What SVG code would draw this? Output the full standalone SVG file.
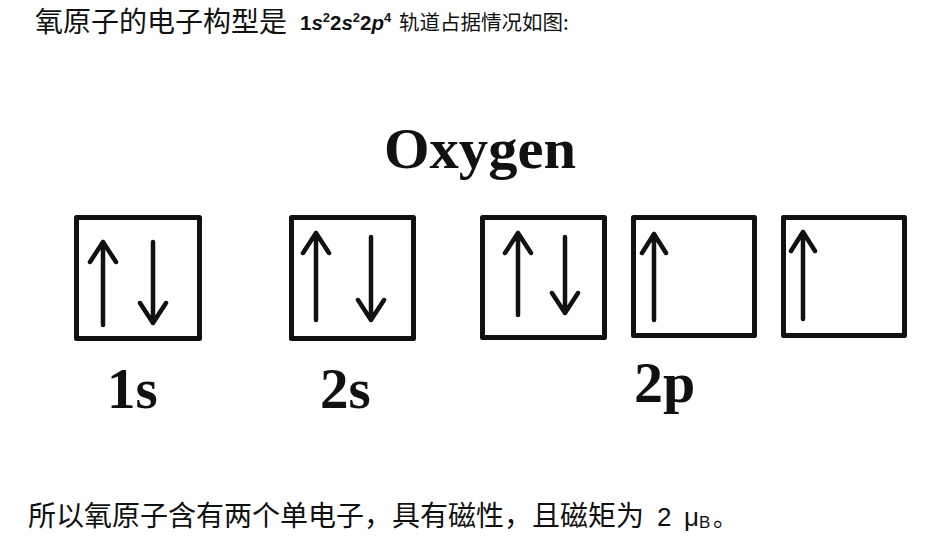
<svg xmlns="http://www.w3.org/2000/svg" width="947" height="548" viewBox="0 0 947 548">
<style>
.box{fill:#fff;stroke:#111;stroke-width:5;stroke-linejoin:round}
.ar{fill:none;stroke:#111;stroke-width:4.5;stroke-linecap:round;stroke-linejoin:round}
.big{font-family:"Liberation Serif","Times New Roman",serif;font-weight:bold;fill:#111}
.cjk{font-family:"Noto Sans CJK SC",sans-serif;fill:#111}
.lat{font-family:"Liberation Sans",Arial,sans-serif;fill:#111}
</style>
<rect width="947" height="548" fill="#fff"/>
<g id="title-text">
<text x="35" y="32" class="cjk" font-size="28">氧原子的电子构型是</text>
<text x="300" y="30" class="lat" font-size="20.5" font-weight="bold">1<tspan font-style="italic">s</tspan><tspan font-size="13" dy="-8">2</tspan><tspan dy="8">2</tspan><tspan font-style="italic">s</tspan><tspan font-size="13" dy="-8">2</tspan><tspan dy="8">2</tspan><tspan font-style="italic">p</tspan><tspan font-size="13" dy="-8">4</tspan></text>
<text x="399" y="30" class="cjk" font-size="20.5">轨道占据情况如图:</text>
</g>
<g id="oxygen-label"><text x="384" y="168" class="big" font-size="58" textLength="192" lengthAdjust="spacingAndGlyphs">Oxygen</text></g>
<g id="orbital-1s">
<rect class="box" x="76.5" y="217.5" width="123" height="121"/>
<path class="ar" d="M103 325V242M90 262L103 242L116 262"/>
<path class="ar" d="M153 242V323M140 303L153 323L166 303"/>
</g>
<g id="orbital-2s">
<rect class="box" x="291.5" y="217.5" width="122" height="121"/>
<path class="ar" d="M316 320V233M303 253L316 233L329 253"/>
<path class="ar" d="M371 237V320M358 300L371 320L384 300"/>
</g>
<g id="orbital-2p-1">
<rect class="box" x="482.5" y="217.5" width="122" height="120"/>
<path class="ar" d="M518 315V233M505 253L518 233L531 253"/>
<path class="ar" d="M565 237V313M552 293L565 313L578 293"/>
</g>
<g id="orbital-2p-2">
<rect class="box" x="633.5" y="217.5" width="121" height="118"/>
<path class="ar" d="M654 320V234M642 253L654 234L666 253"/>
</g>
<g id="orbital-2p-3">
<rect class="box" x="783.5" y="217.5" width="121" height="118"/>
<path class="ar" d="M803 319V232M791 251L803 232L815 251"/>
</g>
<g id="labels">
<text x="107" y="408" class="big" font-size="57">1s</text>
<text x="320" y="408" class="big" font-size="57">2s</text>
<text x="634" y="402" class="big" font-size="58">2p</text>
</g>
<g id="conclusion-text">
<text x="28" y="526" class="cjk" font-size="28">所以氧原子含有两个单电子，具有磁性，且磁矩为</text>
<text x="657" y="526" class="lat" font-size="26">2</text>
<text x="684" y="526" class="lat" font-size="26">μ<tspan font-size="17" dy="2">B</tspan></text>
<text x="713" y="526" class="cjk" font-size="24">。</text>
</g>
</svg>
